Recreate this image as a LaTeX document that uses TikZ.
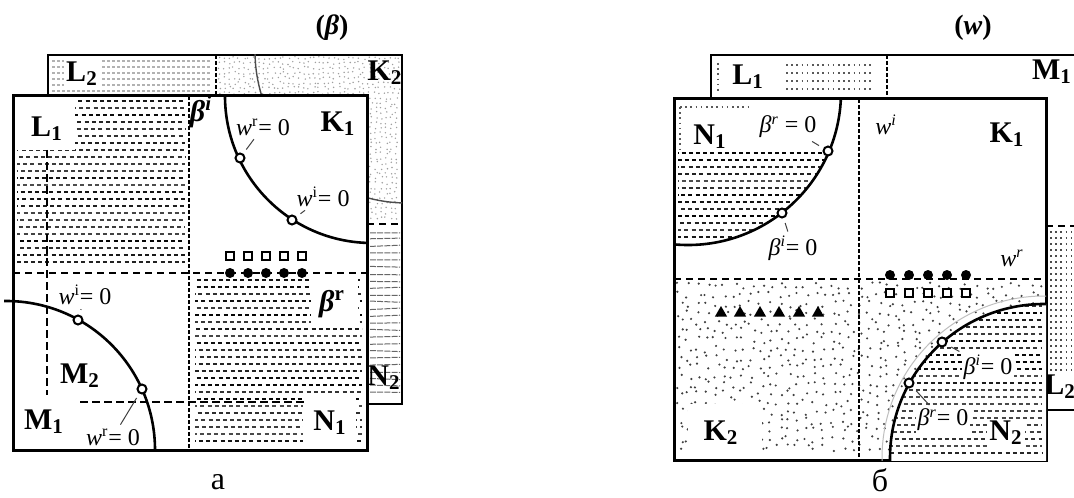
\documentclass[tikz,border=0pt]{standalone}
\usepackage{fontspec}
\setmainfont{Liberation Serif}
\usetikzlibrary{shapes.geometric}

\tikzset{
  outerbox/.style={line width=1.5pt},
  backbox/.style={line width=1pt},
  sepv/.style={line width=0.9pt,dash pattern=on 2.2pt off 0.8pt},
  seph/.style={line width=1.2pt,dash pattern=on 3.5pt off 2.5pt},
  auxdash/.style={line width=1.1pt,dash pattern=on 4pt off 2pt},
  zeroline/.style={line width=1.3pt},
  hatchrow/.style={line width=1.1pt,dash pattern=on 2pt off 1.6pt},
  greyrow/.style={gray!60,line width=0.8pt,dash pattern=on 1.5pt off 1pt},
  dotrow/.style={gray!70!black,line width=1pt,dash pattern=on 0.8pt off 1.8pt},
  lbl/.style={font=\fontsize{15}{15}\selectfont\bfseries,inner sep=1pt},
  eqn/.style={font=\fontsize{12}{12}\selectfont,inner sep=1pt},
  ttl/.style={font=\fontsize{14}{14}\selectfont\bfseries},
  capt/.style={font=\fontsize{16}{16}\selectfont,inner sep=0pt},
  mkc/.style={circle,draw,fill=white,line width=1pt,minimum size=4.5pt,inner sep=0pt},
  bigdot/.style={circle,fill,minimum size=5pt,inner sep=0pt},
  sqbox/.style={rectangle,draw,fill=white,line width=1pt,minimum size=4pt,inner sep=0pt},
  trimark/.style={regular polygon,regular polygon sides=3,fill,minimum size=7pt,inner sep=0pt},
  lead/.style={line width=0.5pt,black!75,shorten <=1pt,shorten >=2.5pt},
}

\begin{document}
\begin{tikzpicture}[x=0.5pt,y=-0.5pt]
  \useasboundingbox (0,0) rectangle (1074,497);

  % ===== panel a: (beta) =====
  % back sheet
  \draw[backbox,fill=white] (48,55) rectangle (402,404);
  \pgfmathsetseed{11}
  % grey stipple of K2 (only the visible strips)
  \foreach \x in {219,224,...,399} \foreach \y in {58,63,...,93}
    \fill[gray!75] ({\x+1.5*rand},{\y+1.5*rand}) circle[radius=0.4pt];
  \foreach \x in {371,376,...,399} \foreach \y in {98,103,...,220}
    \fill[gray!75] ({\x+1.5*rand},{\y+1.5*rand}) circle[radius=0.4pt];
  % L2 strip and N2 strip
  \foreach \y in {61,67,...,91} \draw[greyrow] (52,\y) -- (212,\y);
  \foreach \y in {232,239,...,398}
    \draw[gray!80!black,line width=0.5pt,dash pattern=on 3pt off 0.6pt] (370,{\y+rand}) -- (400,{\y+rand});
  \draw[sepv] (216,55) -- (216,96);
  \draw[seph,line width=1pt] (367,224) -- (402,224);
  \begin{scope}
    \clip (48,55) rectangle (402,404);
    \draw[gray!60!black,line width=0.7pt] (407,51) circle[radius=76pt];
  \end{scope}
  \node[lbl,fill=white] (L2a) at (82,74) {L\textsubscript{2}};
  \node[lbl] (K2a) at (385,73) {K\textsubscript{2}};
  \node[lbl] (N2a) at (384,378) {N\textsubscript{2}};

  % front sheet
  \draw[outerbox,fill=white] (13,96) rectangle (367,450);
  \foreach \y in {101,108,...,267} {
    \pgfmathtruncatemacro\shade{70+int(30*rnd)}
    \pgfmathsetmacro\ph{3*rnd}
    \draw[hatchrow,black!\shade,dash phase=\ph pt] (17,\y) -- (185,\y);
  }
  \foreach \y in {280,287,...,446} {
    \pgfmathtruncatemacro\shade{70+int(30*rnd)}
    \pgfmathsetmacro\ph{3*rnd}
    \draw[hatchrow,black!\shade,dash phase=\ph pt] (195,\y) -- (362,\y);
  }
  \fill[white] (16,99) rectangle (75,150);
  \fill[white] (311,279) rectangle (358,327);
  \fill[white] (303,398) rectangle (356,443);
  % dividers
  \draw[sepv] (189,96) -- (189,450);
  \draw[seph] (13,273) -- (367,273);
  \draw[auxdash] (47,150) -- (47,395);
  \draw[auxdash] (80,402) -- (305,402);
  % zero lines
  \begin{scope}
    \clip (4,96) rectangle (367,450);
    \draw[zeroline] (372,96) circle[radius=73.5pt];
    \draw[zeroline] (6,450) circle[radius=74.5pt];
  \end{scope}
  % markers
  \foreach \x in {230,248,266,284,302} {
    \node[sqbox] at (\x,256) {};
    \node[bigdot] at (\x,273) {};
  }
  \node[mkc] (ma1) at (240,158) {};
  \node[mkc] (ma2) at (292,220) {};
  \node[mkc] (ma3) at (78,320) {};
  \node[mkc] (ma4) at (142,389) {};
  \node[eqn] (ea1) at (263,127) {\textit{w}\textsuperscript{r}= 0};
  \node[eqn] (ea2) at (323,197) {\textit{w}\textsuperscript{i}= 0};
  \node[eqn] (ea3) at (85,295) {\textit{w}\textsuperscript{i}= 0};
  \node[eqn] (ea4) at (113,437) {\textit{w}\textsuperscript{r}= 0};
  \draw[lead] (ea1) -- (ma1);
  \draw[lead] (ea2) -- (ma2);
  \draw[lead] (ea3) -- (ma3);
  \draw[lead] (ea4) -- (ma4);
  % labels
  \node[lbl] (L1a) at (47,129) {L\textsubscript{1}};
  \node[lbl] (K1a) at (338,124) {K\textsubscript{1}};
  \node[lbl] (M2a) at (80,376) {M\textsubscript{2}};
  \node[lbl] (M1a) at (44,422) {M\textsubscript{1}};
  \node[lbl] (N1a) at (330,423) {N\textsubscript{1}};
  \node[lbl] (bia) at (201,112) {\textit{β}\textsuperscript{\textit{i}}};
  \node[lbl] (bra) at (332,304) {\textit{β}\textsuperscript{r}};
  \node[ttl] (tta) at (332,28) {(\textit{β})};
  \node[capt] (capa) at (218,482) {а};

  % ===== panel b: (w) =====
  % back sheet
  \draw[backbox,fill=white] (711,55) rectangle (1090,410);
  \foreach \y in {65,73,81,89} \draw[dotrow] (786,\y) -- (872,\y);
  \draw[dotrow] (718,63) -- (718,92);
  \foreach \y in {232,238,...,372} \draw[dotrow,black!70] (1050,\y) -- (1080,\y);
  \draw[sepv] (887,55) -- (887,99);
  \draw[seph,line width=1pt] (1046,226) -- (1090,226);
  \node[lbl] (L1b) at (748,77) {L\textsubscript{1}};
  \node[lbl] (M1b) at (1052,72) {M\textsubscript{1}};
  \node[lbl,inner sep=0pt] (L2b) at (1060,387) {L\textsubscript{2}};

  % front sheet
  \draw[outerbox,fill=white] (674,99) rectangle (1046,460);
  \pgfmathsetseed{5}
  \foreach \x in {680,689,...,1040} \foreach \y in {286,295,...,455}
    \fill[black!75] ({\x+3.5*rand},{\y+3.5*rand}) circle[radius=0.6pt];
  \begin{scope}
    \clip (674,99) rectangle (1046,460);
    \draw[gray!50,line width=0.5pt] (1044,458) circle[radius=81pt];
    \fill[white] (1044,458) circle[radius=77pt];
    \clip (1044,458) circle[radius=77pt];
    \foreach \y in {306,313,...,456} {
      \pgfmathtruncatemacro\shade{70+int(30*rnd)}
      \pgfmathsetmacro\ph{3*rnd}
      \draw[hatchrow,black!\shade,dash phase=\ph pt] (862,\y) -- (1042,\y);
    }
  \end{scope}
  \begin{scope}
    \clip (677,150) rectangle (855,243);
    \clip (688,92) circle[radius=76.5pt];
    \foreach \y in {153,160,...,241} {
      \pgfmathtruncatemacro\shade{70+int(30*rnd)}
      \pgfmathsetmacro\ph{3*rnd}
      \draw[hatchrow,black!\shade,dash phase=\ph pt] (678,\y) -- (845,\y);
    }
  \end{scope}
  \draw[dotrow,line width=0.6pt] (680,107) -- (748,107);
  \draw[dotrow,line width=0.6pt] (680,107) -- (680,150);
  \fill[white] (688,404) rectangle (762,456);
  % dividers
  \draw[sepv] (859,99) -- (859,460);
  \draw[seph] (674,279) -- (1046,279);
  % zero lines
  \begin{scope}
    \clip (674,99) rectangle (1046,460);
    \draw[zeroline] (688,92) circle[radius=76.5pt];
    \draw[zeroline] (1044,458) circle[radius=77pt];
  \end{scope}
  % markers
  \foreach \x in {890,909,928,947,966} {
    \node[bigdot] at (\x,275) {};
    \node[sqbox] at (\x,293) {};
  }
  \foreach \x in {721,740,760,779,799,818}
    \node[trimark] at (\x,313) {};
  \node[mkc] (mb1) at (828,151) {};
  \node[mkc] (mb2) at (782,213) {};
  \node[mkc] (mb3) at (942,342) {};
  \node[mkc] (mb4) at (909,383) {};
  \node[eqn] (eb1) at (788,127) {\textit{β}\textsuperscript{\textit{r}} = 0};
  \node[eqn] (eb2) at (793,248) {\textit{β}\textsuperscript{\textit{i}}= 0};
  \node[eqn,fill=white] (eb3) at (988,367) {\textit{β}\textsuperscript{\textit{i}}= 0};
  \node[eqn,fill=white] (eb4) at (943,420) {\textit{β}\textsuperscript{\textit{r}}= 0};
  \draw[lead] (eb1) -- (mb1);
  \draw[lead] (eb2) -- (mb2);
  \draw[lead] (eb3) -- (mb3);
  \draw[lead] (eb4) -- (mb4);
  % labels
  \node[lbl] (N1b) at (710,137) {N\textsubscript{1}};
  \node[lbl] (K1b) at (1007,135) {K\textsubscript{1}};
  \node[lbl] (K2b) at (721,433) {K\textsubscript{2}};
  \node[lbl,fill=white] (N2b) at (1006,433) {N\textsubscript{2}};
  \node[eqn] (wib) at (886,125) {\textit{w\textsuperscript{i}}};
  \node[eqn] (wrb) at (1012,258) {\textit{w\textsuperscript{r}}};
  \node[ttl] (ttb) at (973,28) {(\textit{w})};
  \node[capt] (capb) at (880,480) {б};
\end{tikzpicture}
\end{document}
